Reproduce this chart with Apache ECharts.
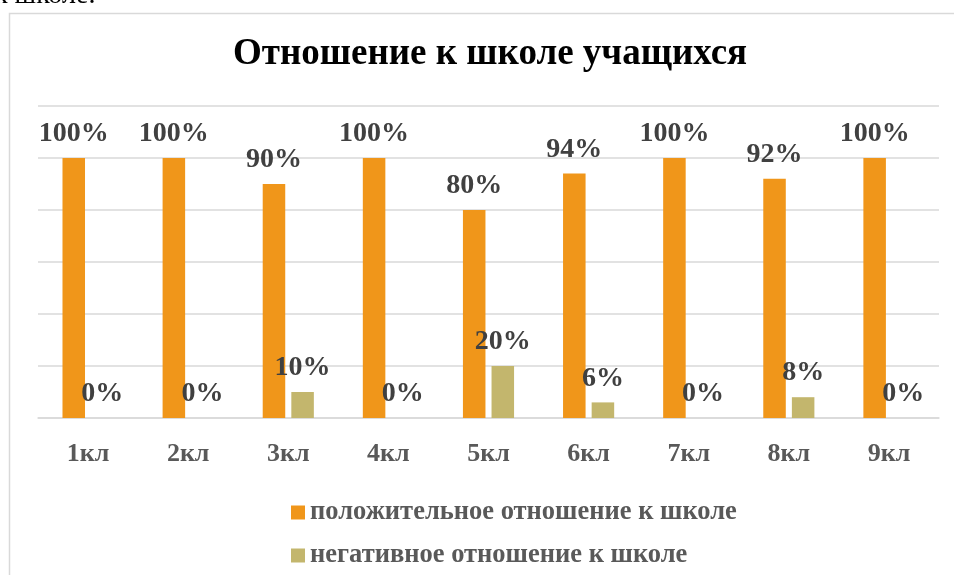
<!DOCTYPE html>
<html>
<head>
<meta charset="utf-8">
<script src="https://cdn.jsdelivr.net/npm/echarts@6/dist/echarts.min.js"></script>
<style>html,body{margin:0;padding:0;background:#fff;}#c{width:954px;height:575px;}</style>
</head>
<body>
<div id="c"></div>
<script>
const categories = ['1кл','2кл','3кл','4кл','5кл','6кл','7кл','8кл','9кл'];
const positiveValues = [100,100,90,100,80,94,100,92,100];
const negativeValues = [0,0,10,0,20,6,0,8,0];
const seriesNames = ['положительное отношение к школе','негативное отношение к школе'];
const titleText = 'Отношение к школе учащихся';

const FONT = '"Liberation Serif", "Times New Roman", serif';
const chart = echarts.init(document.getElementById('c'), null, {renderer:'canvas'});
const labelStyle = {
  show: true, position: 'top', distance: 10,
  formatter: '{c}%', color: '#404040', fontFamily: FONT, fontWeight: 'bold', fontSize: 28
};
chart.setOption({
  animation: false,
  backgroundColor: '#fff',
  graphic: [
    {type:'rect', left: 7, top: 11, shape:{width: 1000, height: 620}, style:{fill:'none', stroke:'#d9d9d9', lineWidth:1.5}, z: -1},
    {type:'text', left: -6, top: -18, style:{text:'к школе.', font:'28px "Liberation Serif", serif', fill:'#000'}}
  ],
  title: {
    text: titleText, left: 228, top: 31,
    textStyle: {fontFamily: FONT, fontWeight: 'bold', fontSize: 37, color: '#000'}
  },
  grid: {left: 38, right: 15, top: 106, bottom: 157, containLabel: false},
  legend: {
    orient: 'vertical', left: 286, top: 494,
    itemWidth: 14, itemHeight: 14, itemGap: 16,
    icon: 'rect',
    textStyle: {fontFamily: FONT, fontWeight: 'bold', fontSize: 26.5, color: '#595959', lineHeight: 26},
    data: seriesNames
  },
  xAxis: {
    type: 'category', data: categories,
    axisLine: {lineStyle: {color: '#d9d9d9', width: 1.5}},
    axisTick: {show: false},
    axisLabel: {margin: 23, color: '#595959', fontFamily: FONT, fontWeight: 'bold', fontSize: 26}
  },
  yAxis: {
    type: 'value', min: 0, max: 120, interval: 20,
    axisLabel: {show: false}, axisLine: {show: false}, axisTick: {show: false},
    splitLine: {lineStyle: {color: '#d9d9d9', width: 1.5}}
  },
  series: [
    {name: seriesNames[0], type: 'bar', data: positiveValues, barWidth: '22.5%', barGap: '27%',
     itemStyle: {color: '#F0961A'}, label: labelStyle},
    {name: seriesNames[1], type: 'bar', data: negativeValues, barWidth: '22.5%',
     itemStyle: {color: '#C3B66D'}, label: labelStyle}
  ]
});
</script>
</body>
</html>
